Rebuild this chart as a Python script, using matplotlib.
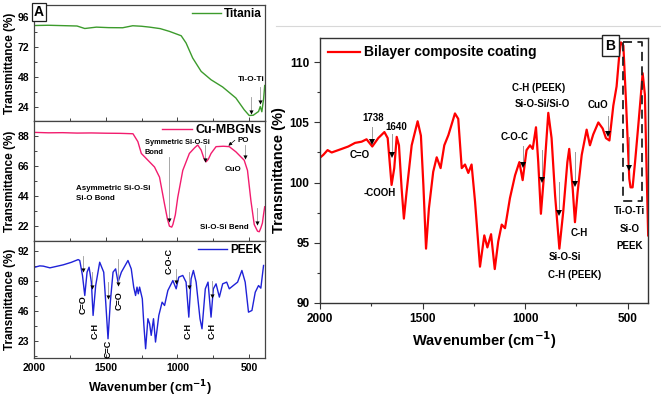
import matplotlib
matplotlib.use("Agg")
import matplotlib.pyplot as plt
from matplotlib.ticker import MultipleLocator, FixedLocator

plt.rcParams['font.family'] = ['Liberation Sans', 'DejaVu Sans']
plt.rcParams['font.weight'] = 'bold'
plt.rcParams['axes.labelweight'] = 'bold'

# ---------------- data ----------------
titania_x = [1993, 1900, 1800, 1700, 1646, 1565, 1480, 1382, 1312, 1250, 1194, 1120, 1056, 974, 940,
             894, 835, 766, 685, 593, 535, 500, 472, 450, 435, 423, 412, 400, 392]
titania_y = [89.0, 89.2, 88.9, 88.6, 86.6, 87.7, 87.3, 87.2, 88.8, 88.4, 87.7, 86.5, 84.3, 80.8, 75.0,
             63.0, 52.3, 45.6, 39.8, 31.0, 21.6, 17.0, 17.2, 19.0, 20.2, 24.2, 20.0, 30.0, 41.0]

cu_x = [1993, 1900, 1800, 1700, 1600, 1500, 1400, 1310, 1276, 1252, 1206, 1160, 1125, 1090, 1070, 1056,
        1040, 1032, 1015, 998, 963, 917, 880, 859, 835, 815, 801, 785, 766, 731, 680, 639, 593, 535,
        512, 488, 465, 442, 430, 419, 408, 400, 392]
cu_y = [90.8, 90.5, 90.6, 90.3, 90.4, 90.2, 90.1, 89.8, 84.0, 75.3, 70.3, 65.3, 57.8, 37.9, 27.0, 21.7,
        21.0, 22.9, 30.0, 42.9, 62.8, 75.3, 79.5, 81.5, 77.8, 71.5, 69.1, 71.0, 75.3, 80.3, 80.6, 80.3,
        76.5, 70.3, 62.8, 40.4, 22.9, 18.0, 17.6, 20.4, 24.0, 30.4, 36.0]

peek_x = [1993, 1960, 1935, 1889, 1840, 1796, 1740, 1692, 1681, 1662, 1646, 1630, 1616, 1600, 1588, 1570,
          1542, 1514, 1500, 1484, 1468, 1449, 1431, 1414, 1391, 1345, 1322, 1305, 1292, 1282, 1273, 1264,
          1245, 1234, 1222, 1206, 1194, 1183, 1167, 1153, 1130, 1107, 1090, 1067, 1032, 1009, 991, 963,
          940, 921, 905, 889, 870, 843, 829, 806, 787, 766, 750, 731, 708, 685, 657, 639, 611, 581, 551,
          528, 505, 481, 458, 435, 419, 400]
peek_y = [79.3, 80.3, 80.1, 78.8, 80.0, 81.1, 83.0, 85.1, 84.4, 73.0, 57.7, 75.5, 79.3, 67.9, 42.5, 65.3,
          83.1, 75.5, 52.6, 24.7, 52.6, 75.5, 78.0, 67.9, 75.5, 84.4, 78.0, 64.1, 57.7, 64.1, 59.0, 64.1,
          55.2, 34.9, 17.1, 40.0, 36.1, 27.3, 40.0, 22.2, 42.5, 52.6, 50.1, 61.5, 69.1, 62.8, 71.7, 73.0,
          67.9, 41.2, 70.4, 76.8, 67.9, 40.0, 32.3, 62.8, 67.9, 41.2, 62.8, 66.6, 56.5, 66.6, 67.9, 62.8,
          65.3, 67.9, 76.8, 67.9, 45.0, 46.3, 60.2, 65.3, 63.3, 80.6]

bi_x = [2000, 1984, 1963, 1943, 1927, 1894, 1862, 1829, 1797, 1773, 1745, 1716, 1686, 1670, 1651, 1638,
        1626, 1615, 1602, 1591, 1578, 1553, 1524, 1508, 1496, 1483, 1469, 1448, 1431, 1412, 1394, 1374,
        1342, 1326, 1309, 1293, 1277, 1261, 1244, 1220, 1199, 1184, 1166, 1148, 1131, 1114, 1098, 1074,
        1049, 1028, 1012, 993, 976, 963, 947, 936, 923, 908, 887, 871, 854, 833, 814, 794, 785, 768, 757,
        744, 724, 700, 684, 668, 643, 622, 606, 589, 570, 554, 541, 533, 521, 508, 492, 486, 476, 464,
        448, 437, 427, 416, 408, 400]
bi_y = [102.07, 102.3, 102.7, 102.5, 102.6, 102.8, 103.0, 103.3, 103.4, 103.6, 103.0, 103.7, 104.2, 103.7,
        99.8, 101.2, 103.8, 103.1, 99.5, 97.0, 99.2, 103.1, 105.1, 103.9, 99.8, 94.5, 97.85, 100.9, 102.1,
        101.2, 103.1, 103.95, 105.75, 105.3, 101.2, 101.5, 100.8, 101.5, 98.4, 93.0, 95.6, 94.6, 95.7, 92.8,
        95.1, 96.5, 96.2, 98.7, 100.6, 101.7, 100.2, 102.7, 103.1, 102.8, 104.6, 101.7, 97.4, 100.6, 105.8,
        103.7, 98.96, 94.5, 97.6, 101.7, 102.8, 99.5, 96.7, 99.2, 102.3, 104.4, 103.1, 104.0, 105.0, 104.5,
        103.7, 103.5, 106.4, 108.0, 110.6, 111.66, 111.4, 106.7, 100.3, 99.6, 99.6, 101.7, 104.8, 107.0,
        109.1, 107.3, 101.2, 95.6]

# annotation arrows: (x, y_start, y_end)
ti_arrows = [(488, 32, 20), (424, 39.5, 28)]
cu_arrows = [(1060, 72.8, 26.6), (808, 81.5, 70.3), (528, 81.5, 72.8), (447, 35.4, 24.2)]
peek_arrows = [(1657, 87.7, 76.8), (1593, 76, 64.1), (1484, 67.9, 56.5), (1414, 85.7, 66.6),
               (1009, 78, 67.9), (923, 75.5, 64.1), (759, 69.1, 57.7)]
bi_arrows = [(1745, 104.64, 103.4), (1649, 104.0, 102.3), (1012, 103.0, 101.45), (920, 102.7, 100.2),
             (833, 100.07, 97.5), (759, 102.56, 99.9), (594, 105.5, 104.0), (492, 103.8, 101.2)]

# ---------------- figure ----------------
fig = plt.figure(figsize=(6.61, 4.04), dpi=100)

L, W = 0.0514, 0.3495
ax1 = fig.add_axes([L, 0.7005, W, 0.2871])
ax2 = fig.add_axes([L, 0.4042, W, 0.2963])
ax3 = fig.add_axes([L, 0.1131, W, 0.2911])
axr = fig.add_axes([0.4841, 0.2507, 0.4962, 0.6559])

# separator line (screenshot artifact)
fig.add_artist(plt.Line2D([276 / 661, 1.0], [1 - 26 / 404, 1 - 26 / 404], color='#d8d8d8', lw=0.8))

ax1.plot(titania_x, titania_y, color='#3c9b2c', lw=1.0, label='Titania')
ax2.plot(cu_x, cu_y, color='#f21c6e', lw=1.0, label='Cu-MBGNs')
ax3.plot(peek_x, peek_y, color='#1f22d8', lw=1.0, label='PEEK')
axr.plot(bi_x, bi_y, color='#ff0000', lw=1.6, label='Bilayer composite coating')

limits = [(ax1, (12.6, 105.4), [24, 48, 72, 96], 12),
          (ax2, (11, 99.2), [22, 44, 66, 88], 11),
          (ax3, (9.8, 99.5), [23, 46, 69, 92], 11.5)]
for ax, yl, yt, ym in limits:
    ax.set_xlim(2000, 390)
    ax.set_ylim(*yl)
    ax.yaxis.set_major_locator(FixedLocator(yt))
    ax.yaxis.set_minor_locator(MultipleLocator(ym))
    ax.xaxis.set_major_locator(MultipleLocator(500))
    ax.xaxis.set_minor_locator(MultipleLocator(250))
    ax.tick_params(which='both', direction='in', labelsize=7.5, width=0.7, color='#444444')
    ax.tick_params(which='major', length=3)
    ax.tick_params(which='minor', length=2)
    for s in ax.spines.values():
        s.set_color('#444444')
        s.set_linewidth(0.9)
    ax.set_ylabel('Transmittance (%)', fontsize=8.5, labelpad=1)
for ax, fsz in ((ax1, 8.5), (ax2, 9.0), (ax3, 8.5)):
    ax.legend(loc='upper right', frameon=False, fontsize=fsz, handlelength=2.4,
              borderaxespad=0.05, borderpad=0.2, handletextpad=0.3)
for ax in (ax1, ax2):
    ax.tick_params(labelbottom=False)
ax3.set_xlabel('Wavenumber (cm$^{\\mathbf{-1}}$)', fontsize=9, labelpad=4)

ax1.text(0.0, 1.0, 'A', transform=ax1.transAxes, ha='left', va='top', fontsize=10,
         bbox=dict(boxstyle='square,pad=0.15', fc='white', ec='#222222', lw=0.9))


def draw_arrows(ax, arrows, ms=3, lw=0.6):
    for x, y0, y1 in arrows:
        ax.plot([x, x], [y0, y1], color='#999999', lw=lw)
        ax.plot([x], [y1], marker='v', color='k', ms=ms, mew=0)


draw_arrows(ax1, ti_arrows)
draw_arrows(ax2, cu_arrows)
draw_arrows(ax3, peek_arrows)
draw_arrows(axr, bi_arrows, ms=4, lw=0.7)

fs = 5.7
ax1.text(488, 45.9, 'Ti-O-Ti', fontsize=6, ha='center', va='center')

ax2.text(1229, 83.6, 'Symmetric Si-O-Si', fontsize=5.3, ha='left', va='center')
ax2.text(1229, 76.3, 'Bond', fontsize=5.3, ha='left', va='center')
ax2.text(1704, 49.6, 'Asymmetric Si-O-Si', fontsize=fs, ha='left', va='center')
ax2.text(1704, 42.1, 'Si-O Bond', fontsize=fs, ha='left', va='center')
ax2.text(540, 84.6, 'PO', fontsize=fs, ha='center', va='center')
ax2.annotate('', xy=(645, 81.0), xytext=(600, 85.0),
             arrowprops=dict(arrowstyle='-|>', color='k', lw=0.5, mutation_scale=5, shrinkA=0, shrinkB=0))
ax2.text(611, 63.3, 'CuO', fontsize=fs, ha='center', va='center')
ax2.text(674, 20.9, 'Si-O-Si Bend', fontsize=fs, ha='center', va='center')

rot_labels = [(1657, 50.9, 'C=O'), (1576, 31, 'C-H'), (1484, 17.1, 'C=C'), (1407, 53.9, 'C=O'),
              (1055, 84.4, 'C-O-C'), (928, 31, 'C-H'), (755, 31, 'C-H')]
for x, y, t in rot_labels:
    ax3.text(x, y, t, fontsize=6.5, rotation=90, ha='center', va='center')

# right panel
axr.set_xlim(2000, 401)
axr.set_ylim(90, 112.05)
axr.xaxis.set_major_locator(MultipleLocator(500))
axr.xaxis.set_minor_locator(MultipleLocator(250))
axr.yaxis.set_major_locator(MultipleLocator(5))
axr.yaxis.set_minor_locator(MultipleLocator(2.5))
axr.tick_params(which='both', direction='out', labelsize=8.5, width=0.8, color='#333333')
axr.tick_params(which='major', length=4)
axr.tick_params(which='minor', length=2.5)
for s in axr.spines.values():
    s.set_color('#333333')
    s.set_linewidth(1.0)
axr.set_ylabel('Transmittance (%)', fontsize=10.5, labelpad=3)
axr.set_xlabel('Wavenumber (cm$^{\\mathbf{-1}}$)', fontsize=10.5, labelpad=3)
axr.legend(loc='upper left', frameon=False, fontsize=10, handlelength=2.3,
           borderaxespad=0.15, handletextpad=0.35)
axr.text(0.886, 0.997, 'B', transform=axr.transAxes, ha='center', va='top', fontsize=10,
         bbox=dict(boxstyle='square,pad=0.25', fc='white', ec='#222222', lw=1.0))
axr.plot([523, 430, 430, 523, 523], [111.7, 111.7, 98.5, 98.5, 111.7], color='#222222', lw=1.3,
         ls=(0, (5, 3)))

fs2 = 7
right_labels = [(1742, 105.34, '1738'), (1630, 104.6, '1640'), (1808, 102.3, 'C=O'),
                (1711, 99.15, '-COOH'), (1049, 103.8, 'C-O-C'), (936, 107.9, 'C-H (PEEK)'),
                (915, 106.5, 'Si-O-Si/Si-O'), (736, 95.8, 'C-H'), (806, 93.8, 'Si-O-Si'),
                (757, 92.3, 'C-H (PEEK)'), (643, 106.45, 'CuO'), (489, 97.6, 'Ti-O-Ti'),
                (489, 96.1, 'Si-O'), (489, 94.7, 'PEEK')]
for x, y, t in right_labels:
    axr.text(x, y, t, fontsize=fs2, ha='center', va='center')

fig.savefig('out.png', dpi=100)
